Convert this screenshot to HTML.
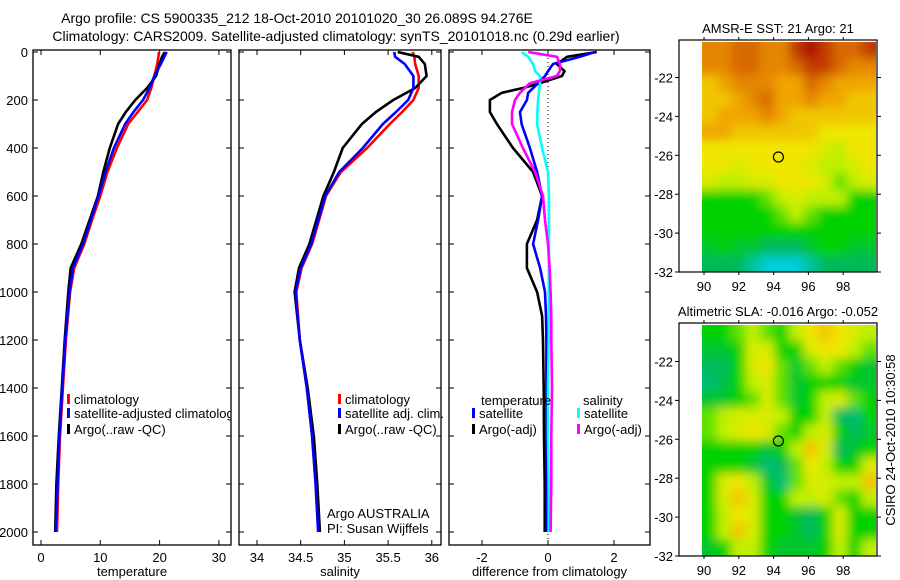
<!DOCTYPE html>
<html><head><meta charset="utf-8">
<style>
html,body{margin:0;padding:0;background:#fff;}
svg{display:block;font-family:"Liberation Sans",sans-serif;}
text{fill:#000;}
</style></head>
<body>
<svg id="fig" width="900" height="580" viewBox="0 0 900 580" xmlns="http://www.w3.org/2000/svg">
<defs>
<clipPath id="c1"><rect x="33" y="50" width="198" height="495"/></clipPath>
<clipPath id="c2"><rect x="239" y="50" width="202" height="495"/></clipPath>
<clipPath id="c3"><rect x="449" y="50" width="201" height="495"/></clipPath>
<clipPath id="mc1"><rect x="702" y="42" width="174" height="230"/></clipPath>
<clipPath id="mc2"><rect x="702" y="325" width="174" height="231"/></clipPath>
<filter id="blur" x="-5%" y="-5%" width="110%" height="110%"><feGaussianBlur stdDeviation="5" edgeMode="duplicate"/></filter>
</defs>
<text x="297" y="23" font-size="14" text-anchor="middle">Argo profile: CS 5900335_212 18-Oct-2010 20101020_30 26.089S 94.276E</text>
<text x="336" y="41" font-size="14" text-anchor="middle">Climatology: CARS2009. Satellite-adjusted climatology: synTS_20101018.nc (0.29d earlier)</text>
<g id="g1"></g>
<g id="g2"></g>
<g id="g3"></g>
<g id="m1"></g>
<g id="m2"></g>
<text transform="translate(895,440) rotate(-90)" font-size="13" text-anchor="middle">CSIRO 24-Oct-2010 10:30:58</text>
</svg>
<script>
// ---- data ----
const depths = [0,20,50,100,150,200,250,300,400,500,600,700,800,900,1000,1200,1400,1600,1800,2000];
const tempClim = [19.9,19.8,19.6,19.1,18.6,17.9,16.3,14.7,12.8,11.2,10.0,8.6,7.3,5.6,4.9,4.2,3.7,3.2,2.9,2.7];
const tempSat  = [21.2,20.8,20.2,19.1,18.3,17.2,15.6,14.2,12.3,10.9,9.7,8.4,7.1,5.4,4.8,4.1,3.6,3.1,2.8,2.5];
const tempArgo = [20.9,20.4,20.0,19.4,17.9,15.9,14.3,13.0,11.6,10.5,9.6,8.2,6.8,5.0,4.6,4.0,3.5,3.0,2.6,2.4];
const salClim = [35.78,35.80,35.81,35.85,35.85,35.79,35.66,35.52,35.26,34.96,34.79,34.71,34.63,34.51,34.45,34.49,34.57,34.63,34.67,34.70];
const salSat  = [35.57,35.58,35.69,35.79,35.79,35.73,35.59,35.44,35.21,34.94,34.78,34.70,34.62,34.50,34.44,34.49,34.57,34.63,34.67,34.70];
const salArgo = [35.61,35.85,35.92,35.94,35.81,35.56,35.36,35.20,34.98,34.88,34.76,34.68,34.60,34.48,34.43,34.49,34.58,34.65,34.69,34.72];
const diffDepths = [0,20,50,80,100,130,150,170,200,250,300,400,500,600,700,800,900,1000,1100,1200,1400,1600,1800,2000];
const dTempArgo = [1.48,0.58,0.27,0.50,0.42,-0.24,-0.76,-1.40,-1.76,-1.76,-1.55,-1.06,-0.45,-0.18,-0.33,-0.64,-0.64,-0.33,-0.18,-0.15,-0.13,-0.12,-0.10,-0.10];
const dTempSat  = [1.42,0.97,0.15,0.00,-0.09,-0.30,-0.45,-0.60,-0.64,-0.85,-0.80,-0.55,-0.33,-0.18,-0.30,-0.45,-0.24,-0.09,-0.06,-0.05,-0.05,-0.05,-0.04,-0.04];
const dSalArgo  = [-0.60,0.27,0.36,0.36,0.27,-0.55,-0.70,-0.85,-1.00,-1.09,-1.09,-0.76,-0.39,-0.15,-0.09,0.00,0.05,0.08,0.10,0.10,0.12,0.10,0.10,0.08];
const dSalSat   = [-0.80,-0.60,-0.45,-0.39,-0.24,-0.24,-0.26,-0.28,-0.30,-0.32,-0.33,-0.18,0.00,0.03,0.03,0.03,0.03,0.02,0.02,0.02,0.00,0.00,0.02,0.02];
const depthTicks = [0,200,400,600,800,1000,1200,1400,1600,1800,2000];
const tempTicks = [0,10,20,30];
const salTicks = [34,34.5,35,35.5,36];
const salTickLabels = ["34","34.5","35","35.5","36"];
const diffTicks = [-2,0,2];
const lonTicks = [90,92,94,96,98];
const latTicks = [-22,-24,-26,-28,-30,-32];
const sstGrid = [
[8.5,8.5,9,9,8.5,8.5,9.5,10,9.5,9,9,9.5],
[8.5,8.5,9,9,8.5,8.5,9,9.5,9.5,9,8.5,8.5],
[7.5,8,8.5,8.5,8.5,8,8,9,8.5,8,8,8],
[7.5,7.5,8,8.5,9,8,8,8.5,8,8,7.5,7.5],
[7.5,8,8,8,8.5,8,7.5,7.5,7.5,7.5,7.5,7.5],
[8,8,7.5,7.5,7.5,7.5,7.5,7.5,7,7,7,7],
[7,7,7,7,7,7,7,7,6.5,6,7,7],
[7,7,6.5,7,7,7,7,6.5,6,6,6.5,7],
[6.5,6,6,6.5,6.5,7,7,7,6.5,5.5,6,6.5],
[5,5,5,5,5.5,6,6.5,6,6,6,5,5],
[5,5,5,5,5,5.5,6,5.5,5,5,5,5],
[5,5,5,5,5,5,5,5,5,5,5,5],
[4.5,5,4.5,4.5,4,4,4,4.5,5,5,4.5,4.5],
[4,4,4,3.5,3,3,3,3.5,4,4,4,4]];
const slaGrid = [
[5,5,5.5,6,5.5,5,6,7,7.5,7,6.5,6],
[4.5,4.5,5,6.5,6.5,5,5,6.5,7,7,6,5.5],
[4,4,5,6.5,7,5.5,4.5,5.5,6,5.5,5,4.5],
[3.8,4.2,5,6,6.5,5.5,4.5,5,5,5,4.5,4.5],
[4.5,4.5,5,5.5,6.5,5.5,4.5,5,6,6.5,5.5,5],
[5.5,6,6.5,6.5,6.5,6,5,5,6,4,3.8,5],
[5.5,6,6.5,7,6.5,5.5,5,6,6.5,5,4,4.5],
[5,5,5,5,4.5,5,6,7.5,6.5,4,4.5,5],
[5,5,5,4.5,3.8,4,5.5,7,6,5,5,6.5],
[5,6.5,7,6,4.5,3.8,5.5,6.5,6.5,6,6,7.5],
[5,6.5,7.5,6.5,5,5,6,6,6.5,5.5,5,6],
[5,6,7,6.5,5,5,4.5,4,5,6.5,5,5],
[5,6,7.5,6.5,5,5,4.5,4,5,6.5,5,5],
[4.5,5,6,6,5,4.5,4.5,4.5,5,6,5,6]];
const argoLon = 94.276, argoLat = -26.089;

// ---- helpers ----
const NS = "http://www.w3.org/2000/svg";
function mk(parent, tag, attrs, txt){
  const e = document.createElementNS(NS, tag);
  for (const k in attrs) e.setAttribute(k, attrs[k]);
  if (txt !== undefined) e.textContent = txt;
  parent.appendChild(e);
  return e;
}
const Y0 = 52, YS = 0.24;
const yD = d => Y0 + d*YS;
const panels = [
  {g:'g1', x0:33, x1:231, clip:'c1', sx:v=>41+v*5.93},
  {g:'g2', x0:239, x1:441, clip:'c2', sx:v=>257+(v-34)*87.4},
  {g:'g3', x0:449, x1:650, clip:'c3', sx:v=>548+v*33}
];
const pTop = 50, pBot = 545;

function frame(p, ticks, labels, xlabel, leftLabels){
  const g = document.getElementById(p.g);
  const box = mk(g,'rect',{x:p.x0,y:pTop,width:p.x1-p.x0,height:pBot-pTop,fill:'none',stroke:'#000','stroke-width':1.3});
  
  
  depthTicks.forEach(d=>{
    const y=yD(d);
    mk(g,'line',{x1:p.x0,x2:p.x0+5,y1:y,y2:y,stroke:'#000'});
    mk(g,'line',{x1:p.x1-5,x2:p.x1,y1:y,y2:y,stroke:'#000'});
    if(leftLabels){
      const t=mk(g,'text',{x:p.x0-5,y:y+5,'font-size':13,'text-anchor':'end'},String(d));
      
      
    }
  });
  ticks.forEach((v,i)=>{
    const x=p.sx(v);
    mk(g,'line',{x1:x,x2:x,y1:pBot,y2:pBot-5,stroke:'#000'});
    mk(g,'line',{x1:x,x2:x,y1:pTop,y2:pTop+5,stroke:'#000'});
    const t=mk(g,'text',{x:x,y:pBot+17,'font-size':13,'text-anchor':'middle'},labels[i]);
    
    
  });
  const xl=mk(g,'text',{x:(p.x0+p.x1)/2,y:576,'font-size':13,'text-anchor':'middle'},xlabel);
  
  
  return g;
}
function series(g,p,ds,vals,color,name){
  const pts = ds.map((d,i)=>p.sx(vals[i]).toFixed(1)+','+yD(d).toFixed(1)).join(' ');
  const l=mk(g,'polyline',{points:pts,fill:'none',stroke:color,'stroke-width':2.6,'stroke-linejoin':'round','clip-path':'url(#'+p.clip+')'});
  
  
}
function legend(g,x,y,color,label,clip){
  mk(g,'rect',{x:x,y:y-10,width:3,height:10,fill:color});
  const attrs={x:x+7,y:y,'font-size':13};
  if(clip) attrs['clip-path']='url(#'+clip+')';
  const t=mk(g,'text',attrs,label);
  
  
}

// panel 1
let g = frame(panels[0], tempTicks, tempTicks.map(String), 'temperature', true);
series(g,panels[0],depths,tempClim,'#ff0000','climatology-temp-line');
series(g,panels[0],depths,tempArgo,'#000000','argo-temp-line');
series(g,panels[0],depths,tempSat,'#0000ff','satellite-temp-line');
legend(g,67,404,'#ff0000','climatology','c1');
legend(g,67,418,'#0000ff','satellite-adjusted climatology','c1');
legend(g,67,434,'#000000','Argo(..raw -QC)','c1');

// panel 2
g = frame(panels[1], salTicks, salTickLabels, 'salinity', false);
series(g,panels[1],depths,salClim,'#ff0000','climatology-sal-line');
series(g,panels[1],depths,salArgo,'#000000','argo-sal-line');
series(g,panels[1],depths,salSat,'#0000ff','satellite-sal-line');
legend(g,338,404,'#ff0000','climatology');
legend(g,338,418,'#0000ff','satellite adj. clim.');
legend(g,338,434,'#000000','Argo(..raw -QC)');
let t=mk(g,'text',{x:327,y:518,'font-size':13},'Argo AUSTRALIA');


t=mk(g,'text',{x:327,y:533,'font-size':13},'PI: Susan Wijffels');



// panel 3
g = frame(panels[2], diffTicks, diffTicks.map(String), 'difference from climatology', false);
mk(g,'line',{x1:panels[2].sx(0),x2:panels[2].sx(0),y1:pTop,y2:pBot,stroke:'#000','stroke-dasharray':'1,3'});
series(g,panels[2],diffDepths,dTempArgo,'#000000','argo-temp-diff-line');
series(g,panels[2],diffDepths,dTempSat,'#0000ff','satellite-temp-diff-line');
series(g,panels[2],diffDepths,dSalSat,'#00ffff','satellite-sal-diff-line');
series(g,panels[2],diffDepths,dSalArgo,'#ff00ff','argo-sal-diff-line');
t=mk(g,'text',{x:481,y:405,'font-size':13},'temperature');


t=mk(g,'text',{x:583,y:405,'font-size':13},'salinity');


legend(g,472,418,'#0000ff','satellite');
legend(g,472,434,'#000000','Argo(-adj)');
legend(g,577,418,'#00ffff','satellite');
legend(g,577,434,'#ff00ff','Argo(-adj)');

// maps
const stops=[[2,[0,160,255]],[3,[0,205,215]],[4,[0,185,90]],[5,[0,210,0]],[6,[190,240,0]],[7,[240,230,0]],[8,[240,165,0]],[9,[215,105,0]],[10,[175,10,0]]];
function cmap(v){
  if(v<=stops[0][0]) return 'rgb('+stops[0][1]+')';
  for(let i=1;i<stops.length;i++){
    if(v<=stops[i][0]){
      const a=stops[i-1],b=stops[i],f=(v-a[0])/(b[0]-a[0]);
      const c=a[1].map((x,k)=>Math.round(x+(b[1][k]-x)*f));
      return 'rgb('+c+')';
    }
  }
  return 'rgb('+stops[stops.length-1][1]+')';
}
function drawMap(id, grid, boxTop, boxBot, title, clipId){
  const gm=document.getElementById(id);
  const bx0=679, bx1=877;
  const lonX = lon => 704 + (lon-90)*17.4;
  const latY = lat => boxBot - (lat+32)*19.45;
  const dataX0=702, dataX1=876, dataY0=boxTop+2, dataY1=boxBot;
  const rows=grid.length, cols=grid[0].length;
  const cw=(dataX1-dataX0)/cols, ch=(dataY1-dataY0)/rows;
  const clipG=mk(gm,'g',{'clip-path':'url(#'+clipId+')'});
  const blurG=mk(clipG,'g',{filter:'url(#blur)'});
  grid.forEach((row,r)=>row.forEach((v,c)=>{
    // extend edge cells outward so blur doesn't fade at borders
    const x0=dataX0+c*cw - (c===0?10:0), x1=dataX0+(c+1)*cw + (c===cols-1?10:0);
    const y0=dataY0+r*ch - (r===0?10:0), y1=dataY0+(r+1)*ch + (r===rows-1?10:0);
    const cell=mk(blurG,'rect',{x:x0.toFixed(2),y:y0.toFixed(2),width:(x1-x0+0.6).toFixed(2),height:(y1-y0+0.6).toFixed(2),fill:cmap(v)});
    
    
  }));
  const b=mk(gm,'rect',{x:bx0,y:boxTop,width:bx1-bx0,height:boxBot-boxTop,fill:'none',stroke:'#000','stroke-width':1.2});
  
  
  latTicks.forEach(lat=>{
    const y=latY(lat);
    mk(gm,'line',{x1:bx0-4,x2:bx0,y1:y,y2:y,stroke:'#000'});
    mk(gm,'line',{x1:bx1,x2:bx1+4,y1:y,y2:y,stroke:'#000'});
    const tl=mk(gm,'text',{x:bx0-6,y:y+5,'font-size':13,'text-anchor':'end'},String(lat));
    
    
  });
  lonTicks.forEach(lon=>{
    const x=lonX(lon);
    mk(gm,'line',{x1:x,x2:x,y1:boxTop-3,y2:boxTop,stroke:'#000'});
    mk(gm,'line',{x1:x,x2:x,y1:boxBot,y2:boxBot+3,stroke:'#000'});
    const tl=mk(gm,'text',{x:x,y:boxBot+19,'font-size':13,'text-anchor':'middle'},String(lon));
    
    
  });
  const c=mk(gm,'circle',{cx:lonX(argoLon),cy:latY(argoLat),r:5,fill:'none',stroke:'#000','stroke-width':1.2});
  
  
  const tt=mk(gm,'text',{x:(bx0+bx1)/2,y:boxTop-7,'font-size':13,'text-anchor':'middle'},title);
  
  
}
drawMap('m1', sstGrid, 40, 272, 'AMSR-E SST: 21 Argo: 21', 'mc1');
drawMap('m2', slaGrid, 323, 556, 'Altimetric SLA: -0.016 Argo: -0.052', 'mc2');
</script>
</body></html>
